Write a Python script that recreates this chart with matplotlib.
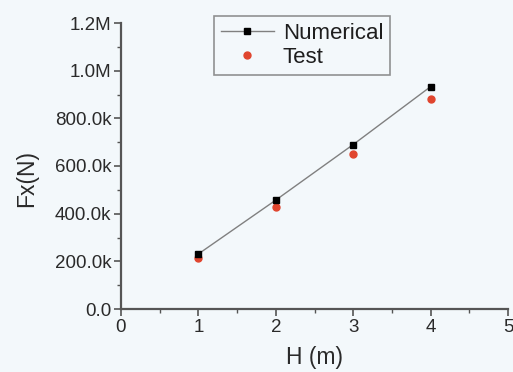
import matplotlib
matplotlib.use("Agg")
import matplotlib.pyplot as plt
from matplotlib.ticker import MultipleLocator, FixedLocator, FixedFormatter

# Horizontal force versus wave height
heights = [1, 2, 3, 4]
fx_numerical = [231e3, 457e3, 690e3, 933e3]
fx_test = [214e3, 428e3, 652e3, 883e3]

x_ticks = [0, 1, 2, 3, 4, 5]
y_ticks = [0, 200e3, 400e3, 600e3, 800e3, 1.0e6, 1.2e6]
y_tick_labels = ["0.0", "200.0k", "400.0k", "600.0k", "800.0k", "1.0M", "1.2M"]

plt.rcParams["font.family"] = ["Liberation Sans", "DejaVu Sans"]

bg = "#f3f8fb"
axis_col = "#555555"
text_col = "#2a2a2a"

fig = plt.figure(figsize=(5.13, 3.72), dpi=100, facecolor=bg)
ax = fig.add_axes([121 / 513, 63 / 372, 387 / 513, 286 / 372], facecolor=bg)

ax.plot(heights, fx_numerical, color="#808080", lw=1.0, marker="s", ms=5,
        mfc="black", mec="black", label="Numerical", zorder=3)
ax.plot(heights, fx_test, ls="none", marker="o", ms=5,
        mfc="#e0452e", mec="#e0452e", label="Test", zorder=2)

ax.set_xlim(0, 5)
ax.set_ylim(0, 1.2e6)
ax.xaxis.set_major_locator(FixedLocator(x_ticks))
ax.xaxis.set_minor_locator(MultipleLocator(0.5))
ax.yaxis.set_major_locator(FixedLocator(y_ticks))
ax.yaxis.set_major_formatter(FixedFormatter(y_tick_labels))
ax.yaxis.set_minor_locator(MultipleLocator(100e3))

for side in ("top", "right"):
    ax.spines[side].set_visible(False)
for side in ("left", "bottom"):
    ax.spines[side].set_color(axis_col)
    ax.spines[side].set_linewidth(1.6)

ax.tick_params(which="major", direction="out", length=5, width=1.2,
               color=axis_col, labelsize=13.5, labelcolor=text_col, pad=2)
ax.tick_params(which="minor", direction="out", length=3, width=1.0, color=axis_col)

ax.set_xlabel("H (m)", fontsize=16.5, color=text_col)
ax.xaxis.set_label_coords(0.5, -0.13, transform=ax.transAxes)
ax.xaxis.label.set_verticalalignment("top")
ax.set_ylabel("Fx(N)", fontsize=16.5, color=text_col)
ax.yaxis.set_label_coords(-0.215, 0.458)

leg = ax.legend(loc="upper left", bbox_to_anchor=(93 / 387, 1 + 7 / 286),
                fontsize=16, frameon=True, fancybox=False, borderpad=0.3,
                handlelength=2.4, handletextpad=0.4, labelspacing=0.15,
                borderaxespad=0)
leg.get_frame().set_edgecolor("#777777")
leg.get_frame().set_linewidth(1.2)
leg.get_frame().set_facecolor(bg)
for t in leg.get_texts():
    t.set_color("#1e1e1e")

fig.savefig("out.png", dpi=100, facecolor=bg)
